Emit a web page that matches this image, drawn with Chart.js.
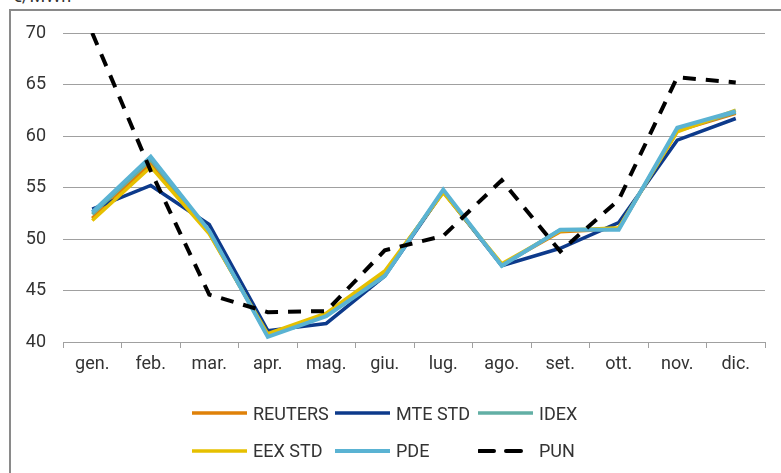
<!DOCTYPE html>
<html><head><meta charset="utf-8">
<script src="https://cdn.jsdelivr.net/npm/chart.js@4"></script>
<style>
html,body{margin:0;padding:0;background:#fff;overflow:hidden;}
#wrap{position:relative;width:781px;height:473px;overflow:hidden;font-family:Roboto,sans-serif;}
#frame{position:absolute;left:9px;top:9px;width:820px;height:520px;border:2px solid #8a8a8a;box-sizing:border-box;}
#unit{position:absolute;left:12px;top:-13px;font-size:18px;line-height:18px;color:#333333;}
canvas{position:absolute;left:0;top:0;}
#legend{position:absolute;left:0;top:0;}
.li{position:absolute;display:flex;align-items:center;font-size:18px;color:#333333;white-space:nowrap;height:24px;}
.li svg{display:block;margin-right:6px;}
</style></head>
<body>
<div id="wrap">
  <div id="frame"></div>
  <div id="unit">€/MWh</div>
  <canvas id="c" width="781" height="473"></canvas>
  <div id="legend"></div>
</div>
<script>
const months = ['gen.','feb.','mar.','apr.','mag.','giu.','lug.','ago.','set.','ott.','nov.','dic.'];
const reuters = [52.0,57.3,50.6,40.7,42.6,46.7,54.6,47.5,50.7,51.0,60.5,62.2];
const mteStd  = [52.9,55.2,51.4,41.1,41.8,46.4,54.6,47.4,49.1,51.6,59.6,61.7];
const idex    = [52.4,57.7,50.7,40.6,42.6,46.6,54.7,47.4,50.9,51.0,60.6,62.3];
const eexStd  = [51.8,57.0,50.5,40.8,42.8,46.9,54.5,47.6,50.8,51.1,60.4,62.5];
const pde     = [52.6,58.0,50.8,40.5,42.5,46.4,54.8,47.4,50.9,50.9,60.8,62.4];
const pun     = [70.0,56.6,44.6,42.9,43.0,48.9,50.3,55.7,48.8,53.8,65.7,65.2];
const seriesNames = ['REUTERS','MTE STD','IDEX','EEX STD','PDE','PUN'];
const yTicks = [40,45,50,55,60,65,70];

const colors = ['#DF8108','#0D3A8B','#62AFA5','#E6C000','#5AB3D3','#000000'];
const widths = [3.5,3.5,3.5,3.5,4,4];
const dashes = [[],[],[],[],[],[13,10]];
const seriesData = [reuters, mteStd, idex, eexStd, pde, pun];

const datasets = seriesNames.map((n,i)=>({
  label:n, data:seriesData[i], borderColor:colors[i], backgroundColor:colors[i],
  borderWidth:widths[i], borderDash:dashes[i], pointRadius:0, pointHoverRadius:0,
  tension:0, fill:false, order: seriesNames.length-1-i, borderCapStyle:'butt', borderJoinStyle:'miter'
}));

const tickFont = {family:'Roboto', size:18};
const chart = new Chart(document.getElementById('c'), {
  type:'line',
  data:{labels:months, datasets},
  options:{
    responsive:false, animation:false, devicePixelRatio:1,
    layout:{padding:{left:10, top:33, right:16, bottom:91}},
    plugins:{legend:{display:false}, tooltip:{enabled:false}, title:{display:false}},
    scales:{
      x:{
        type:'category', offset:true,
        grid:{display:true, drawOnChartArea:false, drawTicks:true, tickLength:6, color:'#a0a0a0', offset:true},
        border:{display:true, color:'#a0a0a0', width:1},
        ticks:{color:'#333333', font:tickFont, padding:6, maxRotation:0, autoSkip:false},
        afterFit:s=>{s.height=40;}
      },
      y:{
        min:yTicks[0], max:yTicks[yTicks.length-1],
        afterBuildTicks:s=>{s.ticks = yTicks.map(v=>({value:v}));},
        grid:{color:'#a0a0a0', drawTicks:false, lineWidth:1},
        border:{display:false},
        ticks:{color:'#333333', font:tickFont, padding:17},
        afterFit:s=>{s.width=53;}
      }
    }
  }
});

// HTML legend built from the chart's datasets (3 columns x 2 rows)
const leg = document.getElementById('legend');
chart.data.datasets.forEach((ds,i)=>{
  const col = i%3, row = Math.floor(i/3);
  const el = document.createElement('div');
  el.className='li';
  el.style.left = (192 + col*143) + 'px';
  el.style.top = (413 + row*37.5 - 12) + 'px';
  const dash = ds.borderDash && ds.borderDash.length ? `stroke-dasharray="15 12" stroke-dashoffset="-1"` : '';
  el.innerHTML = `<svg width="55" height="8"><line x1="0" y1="4" x2="55" y2="4" stroke="${ds.borderColor}" stroke-width="${ds.borderWidth}" stroke-linecap="round" ${dash}/></svg><span>${ds.label}</span>`;
  leg.appendChild(el);
});
</script>
</body></html>
